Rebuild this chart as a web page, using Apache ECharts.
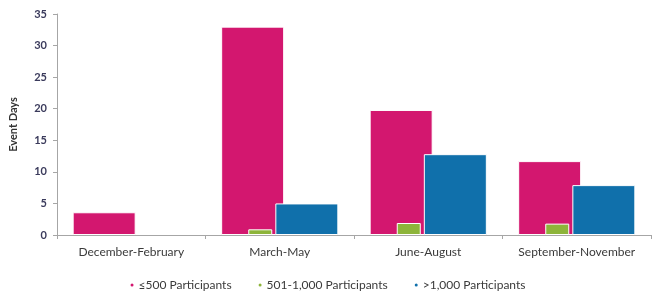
<!DOCTYPE html>
<html>
<head>
<meta charset="utf-8">
<script src="https://cdn.jsdelivr.net/npm/echarts@6/dist/echarts.min.js"></script>
<style>
  html, body { margin: 0; padding: 0; background: #fff; }
  #main { width: 654px; height: 293px; }
</style>
</head>
<body>
<div id="main"></div>
<script>
// seasons
var seasons = ['December-February', 'March-May', 'June-August', 'September-November'];
// event days per participant group (no bar drawn where there were none)
var small = [3.6, 33, 19.8, 11.7];
var medium = [null, 0.9, 1.9, 1.8];
var large = [null, 5, 12.8, 7.9];
var yTicks = { min: 0, max: 35, step: 5 };

var labelFont = 'Lato';
var chart = echarts.init(document.getElementById('main'));
chart.setOption({
  animation: false,
  grid: { left: 55, right: 3, top: 14, bottom: 58 },
  legend: {
    data: ['≤500 Participants', '501-1,000 Participants', '>1,000 Participants'],
    top: 274,
    left: 'center',
    icon: 'circle',
    itemWidth: 5,
    itemHeight: 5,
    itemGap: 25,
    textStyle: { fontFamily: labelFont, fontSize: 12, color: '#3a3a3a', padding: [0, 0, 0, -1] }
  },
  xAxis: [
    {
      type: 'category',
      data: seasons,
      axisLine: { lineStyle: { color: '#a6a6a6' } },
      axisTick: { show: true, length: 4, interval: 0, lineStyle: { color: '#a6a6a6' } },
      axisLabel: { interval: 0, hideOverlap: false, fontFamily: labelFont, fontSize: 12, color: '#3a3a3a', margin: 11 }
    },
    {
      type: 'category',
      data: seasons,
      show: false
    }
  ],
  yAxis: {
    type: 'value',
    min: yTicks.min,
    max: yTicks.max,
    interval: yTicks.step,
    name: 'Event Days',
    nameLocation: 'middle',
    nameGap: 38,
    nameTextStyle: { fontFamily: labelFont, fontSize: 11, fontWeight: 'bold', color: '#333' },
    axisLine: { show: true, lineStyle: { color: '#a6a6a6' } },
    axisTick: { show: true, length: 4, lineStyle: { color: '#a6a6a6' } },
    splitLine: { show: false },
    axisLabel: { fontFamily: labelFont, fontSize: 11, fontWeight: 'bold', color: '#3b3b5c', margin: 10 }
  },
  series: [
    {
      name: '≤500 Participants',
      type: 'bar',
      data: small,
      barWidth: 63,
      itemStyle: { color: '#d3176f', borderColor: '#fff', borderWidth: 1 }
    },
    {
      name: '>1,000 Participants',
      type: 'bar',
      data: large,
      barWidth: 63,
      barGap: '-14%',
      z: 3,
      itemStyle: { color: '#1070ab', borderColor: '#fff', borderWidth: 1 }
    },
    {
      name: '501-1,000 Participants',
      type: 'bar',
      xAxisIndex: 1,
      data: medium,
      barWidth: 24,
      z: 4,
      itemStyle: { color: '#8db43a', borderColor: '#fff', borderWidth: 1 }
    },
    {
      name: 'spacer',
      type: 'bar',
      xAxisIndex: 1,
      data: [null, null, null, null],
      barWidth: 39,
      barGap: 0
    }
  ]
});
</script>
</body>
</html>
